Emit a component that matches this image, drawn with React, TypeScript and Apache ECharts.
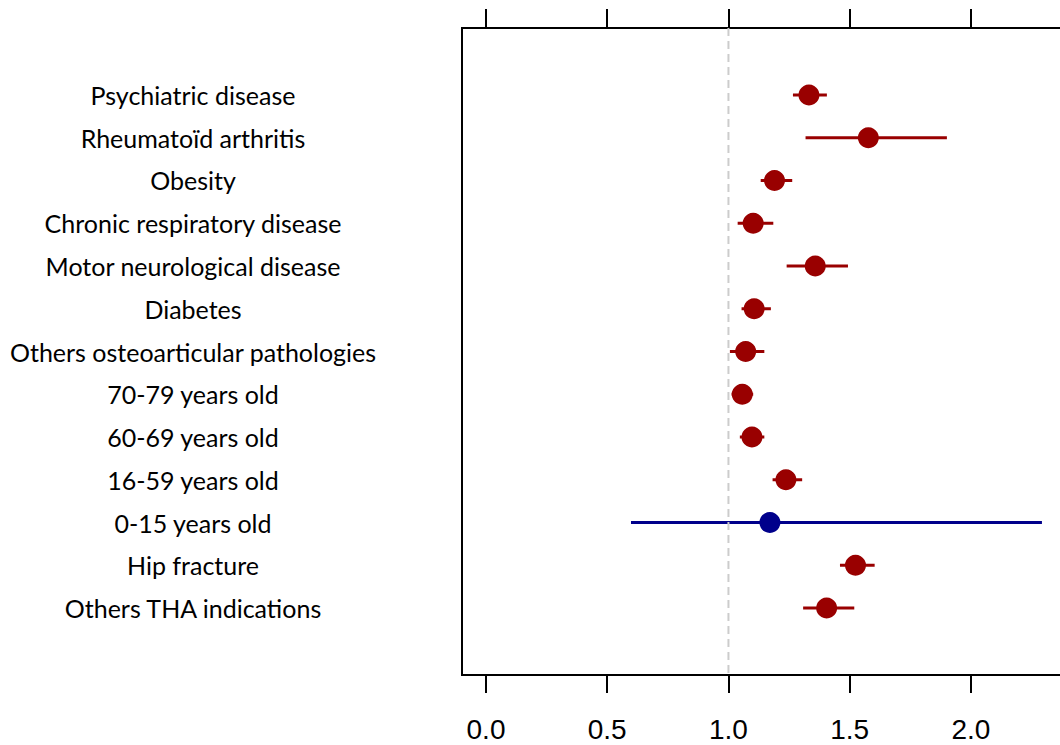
import React, { useEffect, useRef } from "react";
import * as echarts from "echarts";

const categories = [
  "Psychiatric disease",
  "Rheumatoïd arthritis",
  "Obesity",
  "Chronic respiratory disease",
  "Motor neurological disease",
  "Diabetes",
  "Others osteoarticular pathologies",
  "70-79 years old",
  "60-69 years old",
  "16-59 years old",
  "0-15 years old",
  "Hip fracture",
  "Others THA indications",
];
const estimates = [1.332, 1.577, 1.19, 1.102, 1.358, 1.106, 1.071, 1.057, 1.097, 1.237, 1.171, 1.524, 1.405];
const lower = [1.266, 1.318, 1.133, 1.038, 1.24, 1.054, 1.006, 1.013, 1.047, 1.182, 0.598, 1.46, 1.308];
const upper = [1.406, 1.901, 1.263, 1.185, 1.493, 1.175, 1.148, 1.102, 1.148, 1.304, 2.293, 1.603, 1.519];
const isReference = [false, false, false, false, false, false, false, false, false, false, true, false, false];
const xTicks = [0, 0.5, 1, 1.5, 2];
const nullLine = 1;

const RED = "#990000";
const BLUE = "#00008B";

export default function App() {
  const ref = useRef<HTMLDivElement>(null);
  useEffect(() => {
    if (!ref.current) return;
    const chart = echarts.init(ref.current, undefined, { renderer: "svg" });
    const colorOf = (i: number) => (isReference[i] ? BLUE : RED);
    const rowIdx = categories.map((_, i) => i);
    const yMin = -1.567;
    const yMax = categories.length - 1 + 1.567;
    const xMin = -0.099;
    const xMax = 2.45;
    chart.setOption({
      animation: false,
      backgroundColor: "#ffffff",
      grid: {
        left: 462,
        top: 28,
        bottom: 70,
        right: 20,
        show: true,
        borderColor: "#000",
        borderWidth: 2,
        backgroundColor: "transparent",
      },
      xAxis: [
        {
          type: "value",
          position: "bottom",
          min: xMin,
          max: xMax,
          axisLine: { show: false, onZero: false },
          splitLine: { show: false },
          axisTick: {
            show: true,
            customValues: xTicks,
            length: 18,
            inside: false,
            lineStyle: { color: "#000", width: 2 },
          },
          axisLabel: {
            show: true,
            customValues: xTicks,
            formatter: (v: number) => v.toFixed(1),
            fontSize: 28,
            fontFamily: "Liberation Sans, Arial, sans-serif",
            color: "#000",
            margin: 40,
          },
        },
        {
          type: "value",
          position: "top",
          min: xMin,
          max: xMax,
          axisLine: { show: false, onZero: false },
          splitLine: { show: false },
          axisTick: {
            show: true,
            customValues: xTicks,
            length: 19,
            inside: false,
            lineStyle: { color: "#000", width: 2 },
          },
          axisLabel: { show: false },
        },
      ],
      yAxis: {
        type: "value",
        inverse: true,
        min: yMin,
        max: yMax,
        axisLine: { show: false, onZero: false },
        axisTick: { show: false },
        splitLine: { show: false },
        axisLabel: {
          show: true,
          customValues: rowIdx,
          formatter: (v: number) => categories[Math.round(v)] ?? "",
          align: "center",
          margin: 269,
          fontSize: 25,
          fontFamily: "Lato, 'Open Sans', sans-serif",
          color: "#000",
        },
      },
      series: [
        {
          type: "line",
          xAxisIndex: 0,
          data: [
            [nullLine, yMin],
            [nullLine, yMax],
          ],
          symbol: "none",
          lineStyle: { color: "#cccccc", width: 2, type: [8, 5] },
          silent: true,
        },
        {
          type: "custom",
          xAxisIndex: 0,
          data: rowIdx.map((i) => [lower[i], upper[i], i]),
          encode: { x: [0, 1], y: 2 },
          renderItem: (params: any, api: any) => {
            const i = api.value(2);
            const a = api.coord([api.value(0), i]);
            const b = api.coord([api.value(1), i]);
            return {
              type: "line",
              shape: { x1: a[0], y1: a[1], x2: b[0], y2: b[1] },
              style: { stroke: colorOf(i), lineWidth: 3 },
            };
          },
          silent: true,
        },
        {
          type: "scatter",
          xAxisIndex: 0,
          symbol: "circle",
          symbolSize: 21,
          data: rowIdx.map((i) => ({ value: [estimates[i], i], itemStyle: { color: colorOf(i), opacity: 1 } })),
          silent: true,
        },
      ],
    });
    return () => chart.dispose();
  }, []);
  return (
    <div
      ref={ref}
      style={{ position: "fixed", left: 0, top: 0, width: 1100, height: 745, background: "#fff" }}
    />
  );
}
